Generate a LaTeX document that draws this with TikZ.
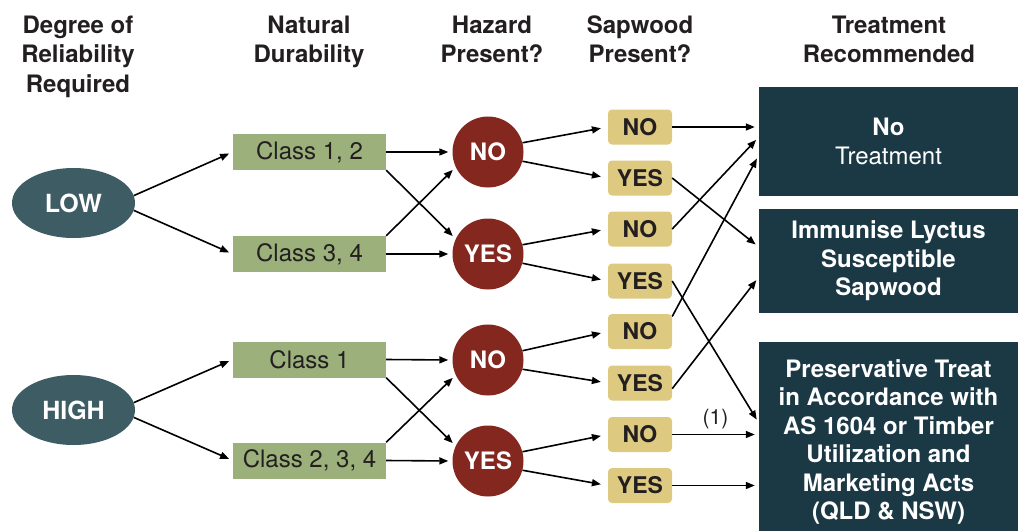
\documentclass[tikz,border=0pt]{standalone}
\usepackage{fontspec}
\setmainfont{TeX Gyre Heros}
\usetikzlibrary{arrows.meta,shapes.geometric}

\definecolor{levelteal}{HTML}{3D5C63}
\definecolor{classgreen}{HTML}{9BB07B}
\definecolor{hazardred}{HTML}{84271F}
\definecolor{sapyellow}{HTML}{DDC97F}
\definecolor{treatblue}{HTML}{1B3845}
\definecolor{inkgray}{HTML}{231F20}

\tikzset{
  header/.style={align=center, inner sep=0pt, anchor=north, text=inkgray,
    font=\fontsize{24}{29.5}\selectfont\bfseries},
  level/.style={ellipse, fill=levelteal, minimum width=123pt, minimum height=70pt,
    inner sep=0pt, text=white, font=\fontsize{25}{30}\selectfont\bfseries},
  durab/.style={rectangle, fill=classgreen, minimum width=153pt, minimum height=36pt,
    inner sep=0pt, text=inkgray, font=\fontsize{24}{28}\selectfont},
  hazard/.style={circle, fill=hazardred, minimum size=71pt, inner sep=0pt,
    text=white, font=\fontsize{24}{28}\selectfont\bfseries},
  sapbox/.style={rectangle, rounded corners=4pt, fill=sapyellow, minimum width=64pt,
    minimum height=35pt, inner sep=0pt, text=inkgray, font=\fontsize{23}{28}\selectfont\bfseries},
  treat/.style={rectangle, fill=treatblue, minimum width=259pt, align=center,
    inner sep=0pt, text=white, font=\fontsize{24}{28.5}\selectfont},
  flow/.style={-{Triangle[length=9pt,width=7pt]}, line width=1.6pt, shorten >=4pt},
  tosap/.style={shorten >=7pt}
}

\begin{document}
\begin{tikzpicture}[x=1pt,y=1pt]
    \useasboundingbox (0,0) rectangle (1018,-531);

    % Column headings
    \node[header] (hdeg) at (78,-15.5) {Degree of\\Reliability\\Required};
    \node[header] (hdur) at (309,-15.5) {Natural\\Durability};
    \node[header] (hhaz) at (492,-15.5) {Hazard\\Present?};
    \node[header] (hsap) at (640,-15.5) {Sapwood\\Present?};
    \node[header] (htre) at (889,-15.5) {Treatment\\Recommended};

    % Reliability
    \node[level] (low) at (73.5,-203) {LOW};
    \node[level] (high) at (73.5,-410) {HIGH};

    % Durability classes
    \node[durab] (c12) at (309.5,-152) {Class 1, 2};
    \node[durab] (c34) at (309.5,-254) {Class 3, 4};
    \node[durab] (c1) at (309.5,-359.5) {Class 1};
    \node[durab] (c234) at (309.5,-460.5) {Class 2, 3, 4};

    % Hazard
    \node[hazard] (no1) at (488,-152) {NO};
    \node[hazard] (yes1) at (488,-254) {YES};
    \node[hazard] (no2) at (488,-360) {NO};
    \node[hazard] (yes2) at (488,-461) {YES};

    % Sapwood
    \node[sapbox] (s1) at (640,-127) {NO};
    \node[sapbox] (s2) at (640,-178) {YES};
    \node[sapbox] (s3) at (640,-229) {NO};
    \node[sapbox] (s4) at (640,-281) {YES};
    \node[sapbox] (s5) at (640,-331.5) {NO};
    \node[sapbox] (s6) at (640,-383) {YES};
    \node[sapbox] (s7) at (640,-434.5) {NO};
    \node[sapbox] (s8) at (640,-485.5) {YES};

    % Treatment
    \node[treat, minimum height=109pt] (t1) at (888.5,-141.5) {\bfseries No\\Treatment};
    \node[treat, minimum height=104pt, font=\fontsize{24}{28.5}\selectfont\bfseries] (t2) at (888.5,-261)
      {Immunise Lyctus\\Susceptible\\Sapwood};
    \node[treat, minimum height=189pt, font=\fontsize{24}{28.5}\selectfont\bfseries] (t3) at (888.5,-436.5)
      {\rule{0pt}{29pt}Preservative Treat\\in Accordance with\\AS 1604 or Timber\\Utilization and\\Marketing Acts\\(QLD \& NSW)};

    % Reliability to durability
    \draw[flow] (low.7) -- (c12.west);
    \draw[flow] (low.-7) -- (c34.west);
    \draw[flow] (high.7) -- (c1.west);
    \draw[flow] (high.-7) -- (c234.west);

    % Durability to hazard
    \draw[flow] (c12.east) -- (no1.west);
    \draw[flow] (c12.south east) -- (yes1.155);
    \draw[flow] (c34.north east) -- (no1.205);
    \draw[flow] (c34.east) -- (yes1.west);
    \draw[flow] (c1.east) -- (no2.west);
    \draw[flow] (c1.south east) -- (yes2.155);
    \draw[flow] (c234.north east) -- (no2.205);
    \draw[flow] (c234.east) -- (yes2.west);

    % Hazard to sapwood
    \draw[flow,tosap] (no1.15) -- (s1.west);
    \draw[flow,tosap] (no1.-15) -- (s2.west);
    \draw[flow,tosap] (yes1.15) -- (s3.west);
    \draw[flow,tosap] (yes1.-15) -- (s4.west);
    \draw[flow,tosap] (no2.15) -- (s5.west);
    \draw[flow,tosap] (no2.-15) -- (s6.west);
    \draw[flow,tosap] (yes2.15) -- (s7.west);
    \draw[flow,tosap] (yes2.-15) -- (s8.west);

    % Sapwood to treatment
    \draw[flow] (s1.east) -- (t1.west |- s1);
    \draw[flow] (s2.east) -- ([yshift=14pt]t2.west);
    \draw[flow] (s3.east) -- ([yshift=4.5pt]t1.west);
    \draw[flow] (s4.east) -- ([yshift=13.5pt]t3.west);
    \draw[flow] (s5.25) -- ([yshift=-13.5pt]t1.west);
    \draw[flow] (s6.-10) -- ([yshift=-16pt]t2.west);
    \draw[flow] (s7.east) -- (t3.west |- s7)
      node[midway, above=1pt, text=inkgray, font=\fontsize{21}{24}\selectfont] (note) {(1)};
    \draw[flow] (s8.east) -- (t3.west |- s8);
\end{tikzpicture}
\end{document}
